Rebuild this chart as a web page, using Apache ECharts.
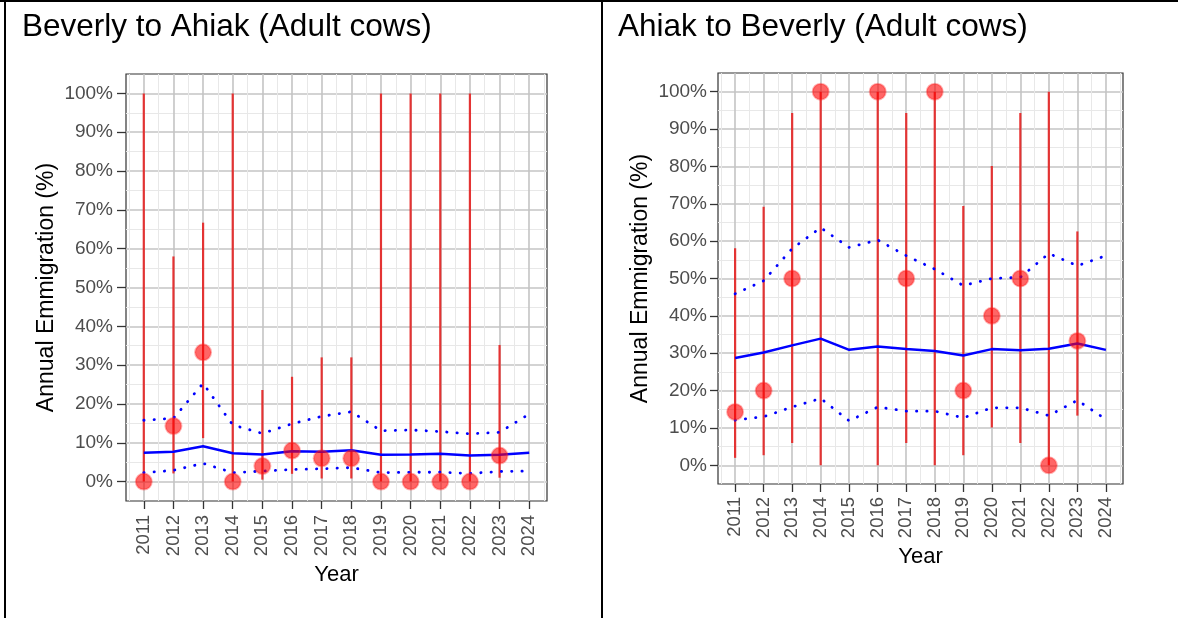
<!DOCTYPE html>
<html><head><meta charset="utf-8">
<script src="https://cdn.jsdelivr.net/npm/echarts@6/dist/echarts.min.js"></script>
<style>html,body{margin:0;padding:0;background:#fff}#c{width:1178px;height:618px}</style>
</head><body><div id="c"></div>
<script>
// ---- data ----
const years = [2011,2012,2013,2014,2015,2016,2017,2018,2019,2020,2021,2022,2023,2024];
const yTicks = [0,10,20,30,40,50,60,70,80,90,100];
const minorXTicks = [2010.5,2011.5,2012.5,2013.5,2014.5,2015.5,2016.5,2017.5,2018.5,2019.5,2020.5,2021.5,2022.5,2023.5,2024.5];
const minorYTicks = [5,15,25,35,45,55,65,75,85,95];
const titles = ['Beverly to Ahiak (Adult cows)', 'Ahiak to Beverly (Adult cows)'];

// Beverly to Ahiak
const baPoint = [0, 14.3, 33.3, 0, 4, 8, 6, 6, 0, 0, 0, 0, 6.7, null];
const baLow   = [0, 2.1, 11.2, 0, 0.5, 2, 0.8, 0.8, 0, 0, 0, 0, 1, null];
const baHigh  = [100, 58, 66.7, 100, 23.6, 27, 32, 32, 100, 100, 100, 100, 35.2, null];
const baMean  = [7.4, 7.7, 9.1, 7.3, 7.0, 7.8, 7.7, 8.1, 6.9, 7.0, 7.2, 6.7, 6.9, 7.4];
const baUpper = [15.8, 16.3, 25.3, 14.6, 12.4, 14.9, 16.8, 18.0, 13.1, 13.3, 12.9, 12.3, 12.7, 17.4];
const baLower = [2.3, 2.9, 4.7, 2.3, 2.7, 3.1, 3.3, 3.6, 2.3, 2.4, 2.4, 2.1, 2.6, 2.7];

// Ahiak to Beverly
const abPoint = [14.3, 20, 50, 100, null, 100, 50, 100, 20, 40, 50, 0, 33.3, null];
const abLow   = [2, 2.7, 6, 0, null, 0, 6, 0, 2.7, 10.1, 6, 0, 13.3, null];
const abHigh  = [58.1, 69.2, 94.3, 100, null, 100, 94.3, 100, 69.4, 80.1, 94.3, 100, 62.6, null];
const abMean  = [28.7, 30.2, 32.1, 33.9, 30.9, 31.8, 31.1, 30.6, 29.4, 31.1, 30.8, 31.2, 32.6, 30.9];
const abUpper = [45.9, 49.4, 58.0, 63.6, 58.3, 60.3, 56.1, 52.5, 48.1, 50.0, 50.3, 56.7, 53.4, 56.1];
const abLower = [12.1, 13.0, 15.6, 17.9, 11.9, 15.6, 14.5, 14.5, 12.7, 15.4, 15.4, 13.3, 17.4, 12.3];

// ---- chart ----
const FONT = '"Liberation Sans", Arial, Helvetica, sans-serif';
const panels = [
  {grid:{left:126, top:74, width:421, height:427}, yLabelMargin:13, yTickLen:9, yNameGap:68, xLabelMargin:14, xNameGap:60,
   point:baPoint, low:baLow, high:baHigh, mean:baMean, upper:baUpper, lower:baLower},
  {grid:{left:718, top:73, width:405, height:411}, yLabelMargin:11, yTickLen:8, yNameGap:66, xLabelMargin:13, xNameGap:58,
   point:abPoint, low:abLow, high:abHigh, mean:abMean, upper:abUpper, lower:abLower}
];

const grids = [], xAxes = [], yAxes = [], series = [];
panels.forEach((p, k) => {
  grids.push(Object.assign({show:true, borderColor:'#333', borderWidth:1.2, backgroundColor:'transparent', containLabel:false}, p.grid));
  const xMin = 2010.4, xMax = 2024.6, yMin = -5, yMax = 105;
  // minor grid axes
  xAxes.push({type:'value', gridIndex:k, position:'bottom', offset:0, min:xMin, max:xMax, silent:true,
    axisLine:{show:false, onZero:false}, axisLabel:{show:false},
    axisTick:{show:false, customValues:minorXTicks},
    splitLine:{show:true, lineStyle:{color:'#e8e8e8', width:1}}});
  yAxes.push({type:'value', gridIndex:k, position:'left', offset:0, min:yMin, max:yMax, silent:true,
    axisLine:{show:false, onZero:false}, axisLabel:{show:false},
    axisTick:{show:false, customValues:minorYTicks},
    splitLine:{show:true, lineStyle:{color:'#e8e8e8', width:1}}});
  // major axes
  xAxes.push({type:'value', gridIndex:k, position:'bottom', offset:0, min:xMin, max:xMax,
    axisLine:{show:false, onZero:false},
    axisTick:{show:true, length:8, customValues:years, lineStyle:{color:'#333', width:1.3}},
    axisLabel:{customValues:years, rotate:90, margin:p.xLabelMargin, fontSize:18.5, color:'#4d4d4d', fontFamily:FONT,
      formatter: v => String(v)},
    splitLine:{show:true, lineStyle:{color:'#c4c4c4', width:1.6}},
    name:'Year', nameLocation:'middle', nameGap:p.xNameGap,
    nameTextStyle:{fontSize:22, color:'#000', fontFamily:FONT}});
  yAxes.push({type:'value', gridIndex:k, position:'left', offset:0, min:yMin, max:yMax,
    axisLine:{show:false, onZero:false},
    axisTick:{show:true, length:p.yTickLen, customValues:yTicks, lineStyle:{color:'#333', width:1.3}},
    axisLabel:{customValues:yTicks, margin:p.yLabelMargin, fontSize:19, color:'#4d4d4d', fontFamily:FONT,
      formatter: v => v + '%'},
    splitLine:{show:true, lineStyle:{color:'#c4c4c4', width:1.6}},
    name:'Annual Emmigration (%)', nameLocation:'middle', nameGap:p.yNameGap, nameRotate:90,
    nameTextStyle:{fontSize:23, color:'#000', fontFamily:FONT}});

  const xi = 2*k + 1, yi = 2*k + 1;
  const ebData = [], ptData = [];
  years.forEach((yr, i) => {
    if (p.low[i] != null && p.high[i] != null) ebData.push([yr, p.low[i], p.high[i]]);
    if (p.point[i] != null) ptData.push([yr, p.point[i]]);
  });
  series.push({type:'custom', xAxisIndex:xi, yAxisIndex:yi, z:2, data:ebData,
    encode:{x:0, y:[1,2]},
    renderItem:(params, api) => {
      const a = api.coord([api.value(0), api.value(1)]);
      const b = api.coord([api.value(0), api.value(2)]);
      return {type:'line', shape:{x1:a[0], y1:a[1], x2:b[0], y2:b[1]},
        style:{stroke:'rgba(230,30,30,0.88)', lineWidth:2.2}};
    }});
  const lineOf = (vals, dotted) => ({type:'line', xAxisIndex:xi, yAxisIndex:yi, z:3, showSymbol:false, symbol:'none',
    data: years.map((yr, i) => [yr, vals[i]]),
    lineStyle: dotted ? {color:'#0000ff', width:2.8, type:[0.3, 10], cap:'round'} : {color:'#0000ff', width:2.5}});
  series.push(lineOf(p.upper, true));
  series.push(lineOf(p.lower, true));
  series.push(lineOf(p.mean, false));
  series.push({type:'scatter', xAxisIndex:xi, yAxisIndex:yi, z:4, symbolSize:16, data:ptData,
    itemStyle:{color:'rgba(255,0,0,0.75)', borderColor:'rgba(255,40,40,0.45)', borderWidth:2}});
});

const chart = echarts.init(document.getElementById('c'), null, {renderer:'canvas'});
chart.setOption({
  animation:false,
  backgroundColor:'#fff',
  title:[
    {text:titles[0], left:22, top:11, padding:0, textStyle:{fontSize:31.5, fontWeight:'normal', color:'#000', fontFamily:FONT}},
    {text:titles[1], left:618, top:11, padding:0, textStyle:{fontSize:31.5, fontWeight:'normal', color:'#000', fontFamily:FONT}}
  ],
  graphic:[
    {type:'line', shape:{x1:0, y1:1, x2:1178, y2:1}, style:{stroke:'#000', lineWidth:2}, silent:true},
    {type:'line', shape:{x1:5, y1:0, x2:5, y2:618}, style:{stroke:'#000', lineWidth:2}, silent:true},
    {type:'line', shape:{x1:602, y1:0, x2:602, y2:618}, style:{stroke:'#000', lineWidth:2}, silent:true}
  ],
  grid:grids, xAxis:xAxes, yAxis:yAxes, series:series
});
</script></body></html>
